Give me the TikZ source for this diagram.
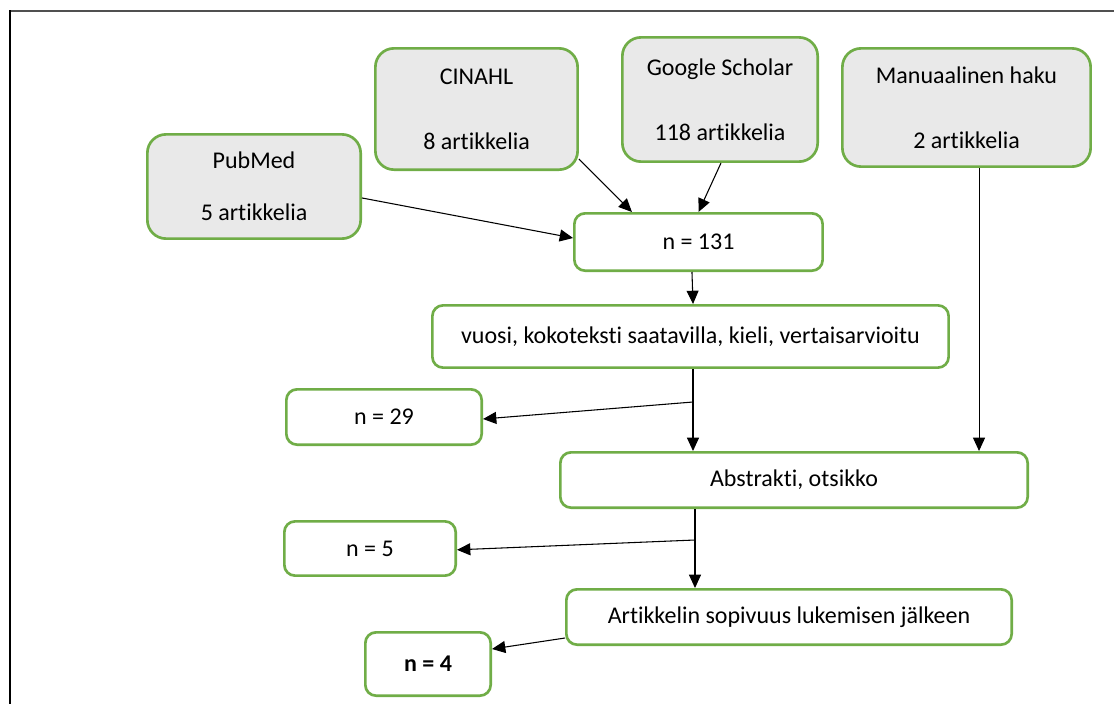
\documentclass[tikz,border=0pt]{standalone}
\usepackage{fontspec}
\setmainfont{Carlito}[Ligatures=NoCommon]
\usetikzlibrary{arrows.meta}
\definecolor{bgreen}{HTML}{70AD47}
\definecolor{boxgray}{HTML}{E9E9E9}
\definecolor{framegray}{HTML}{505050}
\tikzset{
  box/.style={draw=bgreen, line width=2pt, align=center, inner sep=0pt, text=black,
    font=\fontsize{18}{22}\selectfont},
  srcbox/.style={box, fill=boxgray, rounded corners=14pt},
  stepbox/.style={box, fill=white, rounded corners=8pt},
  conn/.style={line width=0.8pt, draw=black, -{Triangle[length=10pt,width=9pt]}},
  framel/.style={line width=1.5pt}
}
\begin{document}
\begin{tikzpicture}[x=0.75pt,y=-0.75pt]
\useasboundingbox (0,0) rectangle (1114,704);
% frame
\draw[framel, framegray] (9,10.5) -- (1114,10.5);
\draw[framel, black] (10,10) -- (10,704);
% source boxes
\node[srcbox, minimum width=160pt, minimum height=78.2pt] (pubmed) at (254,186.5) {PubMed\\[17pt]5 artikkelia};
\node[srcbox, minimum width=151.7pt, minimum height=91pt] (cinahl) at (476.5,109) {CINAHL\\[27pt]8 artikkelia};
\node[srcbox, minimum width=146.5pt, minimum height=93.2pt] (gs) at (720,99.5) {Google Scholar\\[27pt]118 artikkelia};
\node[srcbox, minimum width=186.2pt, minimum height=88.7pt] (manual) at (966.5,107.5) {Manuaalinen haku\\[27pt]2 artikkelia};
% step boxes
\node[stepbox, minimum width=186.2pt, minimum height=43pt] (n131) at (698.5,242) {n = 131};
\node[stepbox, minimum width=387.2pt, minimum height=46.7pt] (vuosi) at (690.5,336.5) {vuosi, kokoteksti saatavilla, kieli, vertaisarvioitu};
\node[stepbox, minimum width=146.5pt, minimum height=41.5pt] (n29) at (384,417) {n = 29};
\node[stepbox, minimum width=350.5pt, minimum height=41.5pt] (abstr) at (794,480) {Abstrakti, otsikko};
\node[stepbox, minimum width=128.5pt, minimum height=40.7pt] (n5) at (370,548.5) {n = 5};
\node[stepbox, minimum width=334pt, minimum height=41.5pt] (artik) at (789,617) {Artikkelin sopivuus lukemisen jälkeen};
\node[stepbox, minimum width=94pt, minimum height=47.5pt] (n4) at (428,664) {\textbf{n = 4}};
% connectors
\draw[conn] ([yshift=-8.6pt]pubmed.east) -- ([yshift=3pt]n131.west);
\draw[conn] ([yshift=-37.5pt]cinahl.east) -- ([xshift=-49.9pt]n131.north);
\draw[conn] ([xshift=0.75pt]gs.south) -- (n131.north);
\draw[conn] ([xshift=9.4pt]manual.south) -- ([xshift=9.4pt]manual.south |- abstr.north);
\draw[conn] ([xshift=-4.9pt]n131.south) -- ([xshift=1.9pt]vuosi.north);
\coordinate (b1) at (693,402);
\draw[conn] (b1 |- vuosi.south) -- (b1 |- abstr.north);
\draw[conn] (b1) -- ([yshift=-1.5pt]n29.east);
\coordinate (b2) at (695,540);
\draw[conn] (b2 |- abstr.south) -- (b2 |- artik.north);
\draw[conn] (b2) -- ([yshift=-1pt]n5.east);
\draw[conn] ([yshift=-15.75pt]artik.west) -- ([yshift=11.25pt]n4.east);
\end{tikzpicture}
\end{document}
